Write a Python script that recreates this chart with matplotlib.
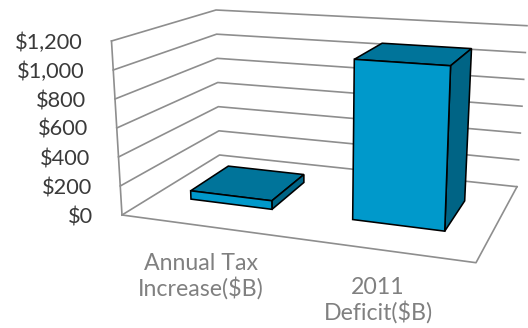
import numpy as np
import matplotlib
matplotlib.use('Agg')
import matplotlib.pyplot as plt
from matplotlib.patches import Polygon

categories = ['Annual Tax\nIncrease($B)', '2011\nDeficit($B)']
values = [60, 1090]
ticks = [0, 200, 400, 600, 800, 1000, 1200]
tick_labels = ['$0', '$200', '$400', '$600', '$800', '$1,000', '$1,200']

# corners of the chart box in pixels: floor and ceiling, front/back, left/right
FLOOR = {'fl': (122, 215), 'fr': (476, 262.7), 'bl': (219.5, 155), 'br': (517, 186.7)}
CEIL = {'fl': (111.5, 41), 'fr': (484, 65.5), 'bl': (216, 10), 'br': (527, 25.7)}
YMAX = 1200.0

# bar footprints as fractions of the box width and depth
BAR_SPANS = [(0.107, 0.349), (0.59, 0.865)]
BAR_V = (0.34, 0.75)

FRONT = '#0099cb'
TOP = '#00749a'
SIDE = '#006485'
GRID = '#8e8e8e'


def plane(c, u, v):
    front = (1 - u) * np.array(c['fl']) + u * np.array(c['fr'])
    back = (1 - u) * np.array(c['bl']) + u * np.array(c['br'])
    return (1 - v) * front + v * back


def project(u, v, val):
    """Box coordinates (across, depth, value) to pixel position."""
    w = val / YMAX
    return (1 - w) * plane(FLOOR, u, v) + w * plane(CEIL, u, v)


def draw_bar(ax, span, val):
    u0, u1 = span
    v0, v1 = BAR_V
    faces = [
        ([(u0, v0, val), (u1, v0, val), (u1, v1, val), (u0, v1, val)], TOP),
        ([(u1, v0, 0), (u1, v1, 0), (u1, v1, val), (u1, v0, val)], SIDE),
        ([(u0, v0, 0), (u1, v0, 0), (u1, v0, val), (u0, v0, val)], FRONT),
    ]
    for pts, color in faces:
        xy = [project(*p) for p in pts]
        ax.add_patch(Polygon(xy, closed=True, facecolor=color, edgecolor='black',
                             linewidth=1.15, joinstyle='miter', zorder=3))


fig = plt.figure(figsize=(5.28, 3.28), dpi=100)
ax = fig.add_axes([0, 0, 1, 1])
ax.set_xlim(0, 528)
ax.set_ylim(328, 0)
ax.axis('off')

# side and back wall gridlines
for t in ticks:
    pts = np.array([project(0, 0, t), project(0, 1, t), project(1, 1, t)])
    ax.plot(pts[:, 0], pts[:, 1], color=GRID, lw=1.2, zorder=1)

# left vertical axis and the front of the floor
pts = np.array([project(0, 0, 0), project(0, 0, YMAX)])
ax.plot(pts[:, 0], pts[:, 1], color=GRID, lw=1.2, zorder=1)
pts = np.array([project(0, 0, 0), project(1, 0, 0), project(1, 1, 0)])
ax.plot(pts[:, 0], pts[:, 1], color=GRID, lw=1.2, zorder=1)

for span, val in zip(BAR_SPANS, values):
    draw_bar(ax, span, val)

for t, label in zip(ticks, tick_labels):
    x, y = project(0, 0, t)
    ax.text(x - 28.5, y + 2, label, ha='right', va='center', fontsize=15.7,
            family='Lato', color='#3a3a3a')

for span, label in zip(BAR_SPANS, categories):
    x, y = project(sum(span) / 2, 0, 0)
    ax.text(x - 1.5, y + 27, label, ha='center', va='top', fontsize=16.7,
            family='Lato', color='#808080', linespacing=1.13)

fig.savefig('out.png', dpi=100)
